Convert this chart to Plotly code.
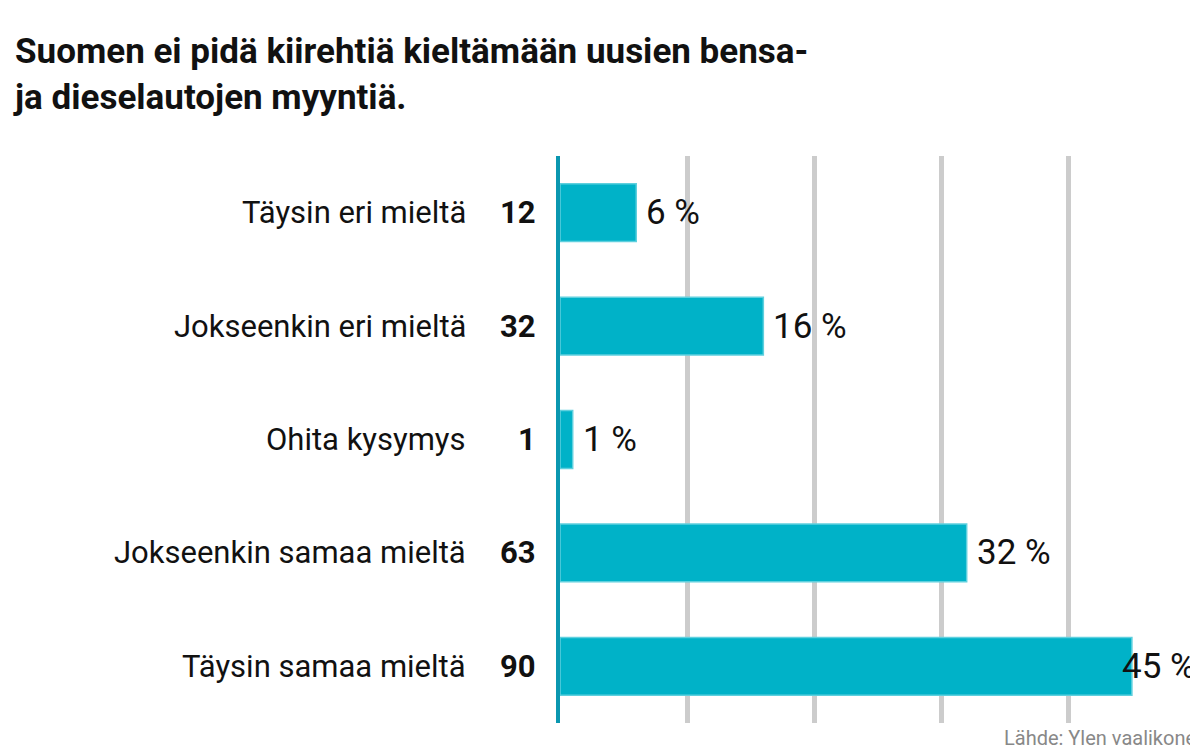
import plotly.graph_objects as go

categories = ["Täysin eri mieltä", "Jokseenkin eri mieltä", "Ohita kysymys",
              "Jokseenkin samaa mieltä", "Täysin samaa mieltä"]
counts = [12, 32, 1, 63, 90]
percents = [6, 16, 1, 32, 45]
x_max = 50.2

fig = go.Figure(go.Bar(
    y=categories, x=percents, orientation="h",
    marker=dict(color="#00b2c8", line=dict(color="#5fd0de", width=1.5)),
    width=0.51, hoverinfo="skip"))

for c, n, p in zip(categories, counts, percents):
    if p > 40:
        fig.add_annotation(x=x_max, y=c, xref="x", yref="y", text=f"{p} %", showarrow=False,
                           xanchor="right", xshift=0, font=dict(family="Roboto", size=35, color="#111"))
    else:
        fig.add_annotation(x=p, y=c, xref="x", yref="y", text=f"{p} %", showarrow=False,
                           xanchor="left", xshift=8, font=dict(family="Roboto", size=35, color="#111"))
    fig.add_annotation(x=0, y=c, xref="paper", yref="y", text=f"<b>{n}</b>", showarrow=False,
                       xanchor="right", xshift=-22, font=dict(family="Roboto", size=31, color="#111"))
    fig.add_annotation(x=0, y=c, xref="paper", yref="y", text=c, showarrow=False,
                       xanchor="right", xshift=-92, font=dict(family="Roboto", size=31, color="#111"))

fig.add_annotation(x=1, y=0, xref="paper", yref="paper", yshift=-1, text="Lähde: Ylen vaalikone",
                   showarrow=False, xanchor="right", yanchor="top",
                   font=dict(family="Roboto", size=20, color="#888"))

fig.add_annotation(x=0, y=1, xref="paper", yref="paper", xshift=-549, yshift=36,
                   xanchor="left", yanchor="bottom", align="left", showarrow=False,
                   text="<b>Suomen ei pidä kiirehtiä kieltämään uusien bensa-<br>ja dieselautojen myyntiä.</b>",
                   font=dict(family="Roboto", size=35, color="#111"))

fig.update_layout(
    width=1198, height=745, plot_bgcolor="white", paper_bgcolor="white",
    margin=dict(l=552, r=8, t=148, b=30), showlegend=False,
    xaxis=dict(range=[0, x_max], dtick=10, showticklabels=False, showgrid=True,
               gridcolor="#cccccc", gridwidth=5, zeroline=False, fixedrange=True),
    yaxis=dict(autorange="reversed", showticklabels=False, showgrid=False,
               showline=True, linecolor="#0a97b0", linewidth=4, fixedrange=True),
)
fig.write_html("out.html")
